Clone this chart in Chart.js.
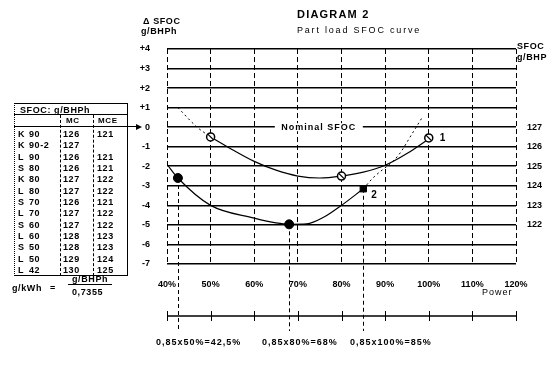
<!DOCTYPE html>
<html>
<head>
<meta charset="utf-8">
<script src="https://cdn.jsdelivr.net/npm/chart.js@4"></script>
<style>
  html, body { margin: 0; padding: 0; background: #fff; }
  #wrap { position: relative; width: 556px; height: 376px; overflow: hidden;
          font-family: "Liberation Sans", Arial, sans-serif; color: #000; }
  #chart { position: absolute; left: 0; top: 0; }
  .t { position: absolute; white-space: nowrap; font-size: 9px; font-weight: bold;
       line-height: 10px; letter-spacing: 0.6px; }
  .hl { position: absolute; height: 0; border-top: 1.5px solid #000; }
  .vl { position: absolute; width: 0; border-left: 1px dashed #000; }
</style>
</head>
<body>
<div id="wrap">
  <canvas id="chart" width="556" height="376"></canvas>

  <div class="t" style="left:297px;top:8px;font-size:11px;line-height:12px;letter-spacing:1.2px;">DIAGRAM 2</div>
  <div class="t" style="left:297px;top:25px;font-weight:normal;letter-spacing:1.8px;">Part load SFOC curve</div>
  <div class="t" style="left:143px;top:16px;">&Delta; SFOC</div>
  <div class="t" style="left:141px;top:26px;">g/BHPh</div>
  <div class="t" style="left:517px;top:41px;">SFOC</div>
  <div class="t" style="left:517px;top:52px;">g/BHP</div>
  <div class="t" style="left:482px;top:287px;font-weight:normal;letter-spacing:1px;">Power</div>

  <div id="tbl"></div>

  <div class="t" style="left:12px;top:283px;">g/kWh</div>
  <div class="t" style="left:50px;top:283px;">=</div>
  <div class="t" style="left:72px;top:274px;">g/BHPh</div>
  <div class="hl" style="left:68px;top:284px;width:44px;border-top-width:1px;"></div>
  <div class="t" style="left:72px;top:287px;">0,7355</div>

  <div class="t" style="left:156px;top:337px;letter-spacing:1px;">0,85x50%=42,5%</div>
  <div class="t" style="left:262px;top:337px;letter-spacing:1px;">0,85x80%=68%</div>
  <div class="t" style="left:350px;top:337px;letter-spacing:1px;">0,85x100%=85%</div>
</div>
<script>
// Part load SFOC curve. Delta SFOC in g/BHPh against engine power in % of MCR.
const $ = (id) => document.getElementById(id);

const powerTicks = [40, 50, 60, 70, 80, 90, 100, 110, 120];
const deltaTicks = [4, 3, 2, 1, 0, -1, -2, -3, -4, -5, -6, -7];
const nominalSfoc = 127;
const sfocTicks = [127, 126, 125, 124, 123, 122];

// curve 1, solid part and dotted lead in
const curve1Load = [50, 55, 60, 65, 70, 75, 80, 85, 90, 95, 100];
const curve1Delta = [-0.5, -1.15, -1.75, -2.2, -2.5, -2.6, -2.5, -2.3, -1.95, -1.35, -0.6];
const curve1DotLoad = [42.5, 46.9, 50];
const curve1DotDelta = [1.0, 0.0, -0.5];
const curve1MarkLoad = [50, 80, 100];
const curve1MarkDelta = [-0.5, -2.5, -0.55];

// curve 2, solid part and dotted run out
const curve2Load = [40, 42.5, 50, 60, 65, 68, 72, 76, 80, 85];
const curve2Delta = [-1.9, -2.6, -4.0, -4.65, -4.9, -4.97, -4.95, -4.6, -4.0, -3.15];
const curve2DotLoad = [85, 87.2, 93, 96.2, 98.5];
const curve2DotDelta = [-3.15, -2.6, -1.45, -0.33, 0.5];
const curve2MarkLoad = [42.5, 68];
const curve2MarkDelta = [-2.6, -4.97];
const curve2SquareLoad = [85];
const curve2SquareDelta = [-3.15];

// engine table, g/BHPh
const engines = ["K 90", "K 90-2", "L 90", "S 80", "K 80", "L 80", "S 70", "L 70", "S 60", "L 60", "S 50", "L 50", "L 42"];
const sfocMC = ["126", "127", "126", "126", "127", "127", "126", "127", "127", "128", "128", "129", "130"];
const sfocMCE = ["121", "", "121", "121", "122", "122", "121", "122", "122", "123", "123", "124", "125"];

function el(tag, cls, txt) {
  const e = document.createElement(tag);
  if (cls) e.className = cls;
  if (txt !== undefined) e.textContent = txt;
  return e;
}
function put(parent, cls, txt, css) {
  const e = el("div", cls, txt);
  e.style.cssText = css;
  parent.appendChild(e);
  return e;
}
function pts(xs, ys) {
  return xs.map((x, i) => ({ x, y: ys[i] }));
}

function buildTable() {
  const t = $("tbl");
  put(t, "hl", undefined, "left:14px;top:103px;width:114px;");
  put(t, "hl", undefined, "left:14px;top:275px;width:114px;");
  put(t, "hl", undefined, "left:14px;top:114px;width:114px;border-top-width:1px;");
  put(t, "hl", undefined, "left:14px;top:126px;width:124px;border-top-width:1px;");
  // arrow head pointing at the 0 label
  put(t, "", undefined,
    "position:absolute;left:136px;top:124px;width:0;height:0;border-top:3px solid transparent;border-bottom:3px solid transparent;border-left:6px solid #000;");
  put(t, "vl", undefined, "left:14px;top:103px;height:173px;border-left-style:dotted;");
  put(t, "", undefined, "position:absolute;left:127px;top:103px;width:0;height:173px;border-left:1.5px solid #000;");
  put(t, "vl", undefined, "left:60px;top:115px;height:161px;");
  put(t, "vl", undefined, "left:93px;top:115px;height:161px;");

  put(t, "t", "SFOC: g/BHPh", "left:20px;top:105px;");
  put(t, "t", "MC", "left:66px;top:116px;font-size:8px;");
  put(t, "t", "MCE", "left:98px;top:116px;font-size:8px;");

  engines.forEach((name, i) => {
    const top = 129 + i * 11.32;
    const [series, bore] = name.split(" ");
    put(t, "t", series, `left:18px;top:${top}px;`);
    put(t, "t", bore, `left:29px;top:${top}px;`);
    put(t, "t", sfocMC[i], `left:63px;top:${top}px;`);
    put(t, "t", sfocMCE[i], `left:97px;top:${top}px;`);
  });
}

const tickFont = { family: "Liberation Sans", size: 9, weight: "bold" };

const overlay = {
  id: "overlay",
  beforeDatasetsDraw(c) {
    const x = c.scales.x, y = c.scales.y, ctx = c.ctx;
    ctx.save();
    ctx.strokeStyle = "#000";
    // drop lines from curve 2 points to the load scale below
    ctx.lineWidth = 1;
    ctx.setLineDash([4, 3]);
    const dropLoad = curve2MarkLoad.concat(curve2SquareLoad);
    const dropDelta = curve2MarkDelta.concat(curve2SquareDelta);
    dropLoad.forEach((p, i) => {
      const px = Math.round(x.getPixelForValue(p)) + 0.5;
      ctx.beginPath();
      ctx.moveTo(px, y.getPixelForValue(dropDelta[i]));
      ctx.lineTo(px, 331);
      ctx.stroke();
    });
    // second load scale
    ctx.setLineDash([]);
    ctx.lineWidth = 1.5;
    ctx.beginPath();
    ctx.moveTo(x.left, 316);
    ctx.lineTo(x.right, 316);
    ctx.stroke();
    ctx.lineWidth = 1;
    powerTicks.forEach((p) => {
      const px = Math.round(x.getPixelForValue(p)) + 0.5;
      ctx.beginPath();
      ctx.moveTo(px, 311);
      ctx.lineTo(px, 321);
      ctx.stroke();
    });
    ctx.restore();
  },
  afterDraw(c) {
    const x = c.scales.x, y = c.scales.y, ctx = c.ctx;
    ctx.save();
    ctx.font = "bold 9px 'Liberation Sans'";
    ctx.textBaseline = "middle";
    // nominal SFOC label sitting on the 0 line
    const y0 = y.getPixelForValue(0);
    const cx = x.getPixelForValue(74.8);
    ctx.fillStyle = "#fff";
    ctx.fillRect(cx - 44, y0 - 4, 88, 8);
    ctx.fillStyle = "#000";
    ctx.textAlign = "center";
    if ("letterSpacing" in ctx) ctx.letterSpacing = "1px";
    ctx.fillText("Nominal SFOC", cx, y0);
    if ("letterSpacing" in ctx) ctx.letterSpacing = "0px";
    // curve numbers
    ctx.textAlign = "left";
    ctx.font = "bold 10px 'Liberation Sans'";
    ctx.fillText("1", x.getPixelForValue(curve1MarkLoad[2]) + 11, y.getPixelForValue(curve1MarkDelta[2]));
    ctx.fillText("2", x.getPixelForValue(curve2SquareLoad[0]) + 8, y.getPixelForValue(curve2SquareDelta[0]) + 6);
    ctx.restore();
  },
};

buildTable();

new Chart($("chart").getContext("2d"), {
  type: "scatter",
  data: {
    datasets: [
      {
        data: pts(curve1MarkLoad, curve1MarkDelta),
        pointStyle: "line", pointRadius: 4, rotation: 45,
        borderColor: "#000", borderWidth: 1.2, showLine: false,
      },
      {
        data: pts(curve1MarkLoad, curve1MarkDelta),
        pointStyle: "circle", pointRadius: 4,
        backgroundColor: "#fff", borderColor: "#000", borderWidth: 1.5, showLine: false,
      },
      {
        data: pts(curve2MarkLoad, curve2MarkDelta),
        pointStyle: "circle", pointRadius: 4.5,
        backgroundColor: "#000", borderColor: "#000", borderWidth: 1, showLine: false,
      },
      {
        data: pts(curve2SquareLoad, curve2SquareDelta),
        pointStyle: "rect", pointRadius: 4.5,
        backgroundColor: "#000", borderColor: "#000", borderWidth: 1, showLine: false,
      },
      {
        data: pts(curve1Load, curve1Delta),
        showLine: true, pointRadius: 0, borderColor: "#000", borderWidth: 1.2,
        cubicInterpolationMode: "monotone",
      },
      {
        data: pts(curve1DotLoad, curve1DotDelta),
        showLine: true, pointRadius: 0, borderColor: "#000", borderWidth: 1,
        borderDash: [2, 3], cubicInterpolationMode: "monotone",
      },
      {
        data: pts(curve2Load, curve2Delta),
        showLine: true, pointRadius: 0, borderColor: "#000", borderWidth: 1.2,
        cubicInterpolationMode: "monotone",
      },
      {
        data: pts(curve2DotLoad, curve2DotDelta),
        showLine: true, pointRadius: 0, borderColor: "#000", borderWidth: 1,
        borderDash: [2, 3], cubicInterpolationMode: "monotone",
      },
    ],
  },
  options: {
    responsive: false,
    animation: false,
    events: [],
    layout: { padding: { top: 49, left: 0, right: 0, bottom: 0 } },
    plugins: { legend: { display: false }, tooltip: { enabled: false } },
    scales: {
      x: {
        type: "linear", min: 40, max: 120,
        afterBuildTicks: (s) => { s.ticks = powerTicks.map((v) => ({ value: v })); },
        afterFit: (s) => { s.height = 112; },
        ticks: { color: "#000", font: tickFont, padding: 15, callback: (v) => v + "%" },
        grid: { color: "#000", lineWidth: 1, drawTicks: false },
        border: { display: false, dash: [5, 3] },
      },
      y: {
        position: "left", min: -7, max: 4,
        afterBuildTicks: (s) => { s.ticks = deltaTicks.map((v) => ({ value: v })); },
        afterFit: (s) => { s.width = 167; },
        ticks: { color: "#000", font: tickFont, padding: 17,
                 callback: (v) => (v > 0 ? "+" + v : String(v)) },
        grid: { color: "#000", lineWidth: 1.6, drawTicks: false },
        border: { display: false },
      },
      y2: {
        position: "right", min: -7, max: 4,
        afterBuildTicks: (s) => { s.ticks = sfocTicks.map((v) => ({ value: v - nominalSfoc })); },
        afterFit: (s) => { s.width = 40; },
        ticks: { color: "#000", font: tickFont, padding: 11,
                 callback: (v) => String(v + nominalSfoc) },
        grid: { drawOnChartArea: false, drawTicks: false },
        border: { display: false },
      },
    },
  },
  plugins: [overlay],
});
</script>
</body>
</html>
